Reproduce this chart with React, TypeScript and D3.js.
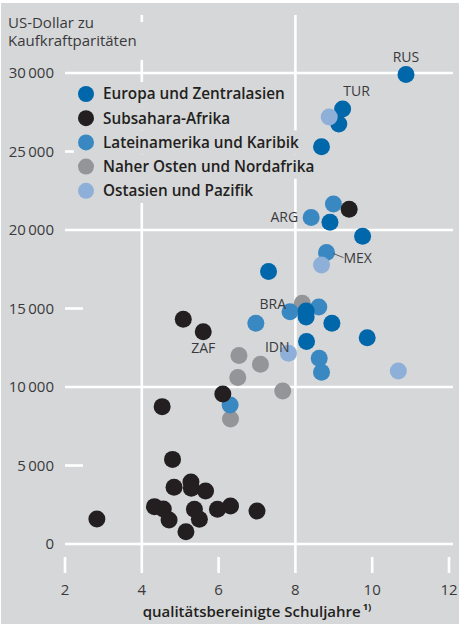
import React, { useEffect, useRef } from 'react';
import * as d3 from 'd3';

const regions = [
  'Europa und Zentralasien',
  'Subsahara-Afrika',
  'Lateinamerika und Karibik',
  'Naher Osten und Nordafrika',
  'Ostasien und Pazifik',
];
const regionColors = ['#0067aa', '#231f20', '#3a88c2', '#939598', '#8eb0d8'];

// [qualitätsbereinigte Schuljahre, US-Dollar]
const europa = [
  [10.88, 29900], [9.23, 27700], [9.13, 26750], [8.68, 25300], [8.9, 20500],
  [9.75, 19600], [7.3, 17350], [8.28, 14840], [8.28, 14460], [8.95, 14060],
  [8.29, 12900], [9.87, 13140],
];
const subsahara = [
  [9.4, 21320], [5.08, 14310], [5.6, 13520], [6.11, 9550], [4.53, 8750],
  [4.8, 5390], [4.84, 3610], [5.28, 3950], [5.29, 3550], [5.66, 3380],
  [4.33, 2380], [4.56, 2230], [4.71, 1530], [5.15, 780], [5.37, 2210],
  [5.5, 1570], [5.97, 2210], [6.31, 2420], [7.0, 2100], [2.83, 1590],
];
const lateinamerika = [
  [8.41, 20800], [8.99, 21660], [8.81, 18560], [8.61, 15100], [7.86, 14800],
  [6.97, 14060], [8.62, 11830], [8.68, 10940], [6.3, 8850],
];
const naherOsten = [
  [8.18, 15330], [6.53, 12000], [7.09, 11450], [6.5, 10600], [7.67, 9750],
  [6.31, 7960],
];
const ostasien = [
  [8.88, 27200], [8.68, 17770], [7.82, 12150], [10.68, 11020],
];

const yTicks = [0, 5000, 10000, 15000, 20000, 25000, 30000];
const yGrid = [0, 10000, 20000, 30000];
const xTicks = [2, 4, 6, 8, 10, 12];
const xGrid = [4, 8];

// country code, region, index in region, offset, anchor
const labels = [
  { code: 'RUS', region: 0, idx: 0, dx: 0, dy: -13, anchor: 'middle' },
  { code: 'TUR', region: 0, idx: 1, dx: 14, dy: -13, anchor: 'middle' },
  { code: 'ARG', region: 2, idx: 0, dx: -13, dy: 5, anchor: 'end' },
  { code: 'MEX', region: 2, idx: 2, dx: 17, dy: 10, anchor: 'start' },
  { code: 'BRA', region: 2, idx: 4, dx: -4, dy: -3, anchor: 'end' },
  { code: 'ZAF', region: 1, idx: 2, dx: 0, dy: 21, anchor: 'middle' },
  { code: 'IDN', region: 4, idx: 2, dx: 1, dy: -1, anchor: 'end' },
];

const font = '"Open Sans", sans-serif';
const bg = '#d6d7d9';

const App = () => {
  const svgRef = useRef(null);

  useEffect(() => {
    const svg = d3.select(svgRef.current);
    svg.selectAll('*').remove();

    const width = 459;
    const height = 624;
    const x = d3.scaleLinear().domain([2, 12]).range([65, 449]);
    const y = d3.scaleLinear().domain([0, 30000]).range([544, 73]);
    const fmt = (v) => d3.format(',')(v).replace(/,/g, '\u2009');
    const groups = [europa, subsahara, lateinamerika, naherOsten, ostasien];

    svg.append('rect').attr('width', width).attr('height', height).attr('fill', '#fff');
    svg.append('rect').attr('x', 1).attr('y', 3).attr('width', width - 1).attr('height', height - 3).attr('fill', bg);

    // grid
    const grid = svg.append('g').attr('stroke', '#fff').attr('stroke-width', 2.6);
    yTicks.forEach((t) => {
      const full = yGrid.includes(t);
      grid.append('line')
        .attr('x1', 65).attr('x2', full ? 453 : 83)
        .attr('y1', y(t)).attr('y2', y(t));
    });
    xTicks.forEach((t) => {
      const full = xGrid.includes(t);
      grid.append('line')
        .attr('x1', x(t)).attr('x2', x(t))
        .attr('y1', full ? 15 : 557).attr('y2', 573);
    });

    // y axis title
    svg.append('rect').attr('x', 4).attr('y', 22).attr('width', 146).attr('height', 38).attr('fill', bg);
    const title = svg.append('text')
      .attr('font-family', font).attr('font-size', 15).attr('fill', '#3a3a3c');
    title.append('tspan').attr('x', 8).attr('y', 28).text('US-Dollar zu');
    title.append('tspan').attr('x', 8).attr('y', 46).text('Kaufkraftparitäten');

    // tick labels
    svg.append('g').selectAll('text').data(yTicks).join('text')
      .attr('x', 54).attr('y', (d) => y(d)).attr('dy', '0.36em')
      .attr('text-anchor', 'end')
      .attr('font-family', font).attr('font-size', 15).attr('fill', '#3a3a3c')
      .text((d) => fmt(d));
    svg.append('g').selectAll('text').data(xTicks).join('text')
      .attr('x', (d) => x(d)).attr('y', 595)
      .attr('text-anchor', 'middle')
      .attr('font-family', font).attr('font-size', 15).attr('fill', '#3a3a3c')
      .text((d) => d);

    const xt = svg.append('text')
      .attr('x', 257).attr('y', 617).attr('text-anchor', 'middle')
      .attr('font-family', font).attr('font-size', 15).attr('font-weight', 600).attr('fill', '#231f20');
    xt.append('tspan').text('qualitätsbereinigte Schuljahre');
    xt.append('tspan').attr('dx', 2).attr('dy', -7).attr('font-size', 9.5).attr('font-weight', 700).text('1)');

    // legend
    const legend = svg.append('g');
    regions.forEach((r, i) => {
      const cy = 94 + i * 24.2;
      const item = legend.append('g');
      const bgRect = item.append('rect').attr('fill', bg);
      item.append('circle').attr('cx', 86).attr('cy', cy).attr('r', 8).attr('fill', regionColors[i]);
      const txt = item.append('text')
        .attr('x', 103).attr('y', cy).attr('dy', '0.35em')
        .attr('font-family', font).attr('font-size', 15.3).attr('font-weight', 600).attr('fill', '#231f20')
        .text(r);
      const bb = txt.node().getBBox();
      bgRect.attr('x', 74).attr('y', cy - 12).attr('width', bb.x + bb.width + 3 - 74).attr('height', 24.2);
    });

    // points
    const order = [3, 2, 0, 1, 4];
    order.forEach((g) => {
      svg.append('g').selectAll('circle').data(groups[g]).join('circle')
        .attr('cx', (d) => x(d[0])).attr('cy', (d) => y(d[1])).attr('r', 8.5)
        .attr('fill', regionColors[g]);
    });

    // country labels
    labels.forEach((l) => {
      const p = groups[l.region][l.idx];
      const px = x(p[0]);
      const py = y(p[1]);
      if (l.code === 'MEX') {
        svg.append('line')
          .attr('x1', px + 7).attr('y1', py + 1).attr('x2', px + 17).attr('y2', py + 5)
          .attr('stroke', '#3a3a3c').attr('stroke-width', 0.8);
      }
      svg.append('text')
        .attr('x', px + l.dx).attr('y', py + l.dy)
        .attr('text-anchor', l.anchor)
        .attr('font-family', font).attr('font-size', 14).attr('fill', '#3a3a3c')
        .text(l.code);
    });
  }, []);

  return (
    <svg ref={svgRef} width={459} height={624} style={{ position: 'absolute', left: 0, top: 0 }} />
  );
};

export default App;
